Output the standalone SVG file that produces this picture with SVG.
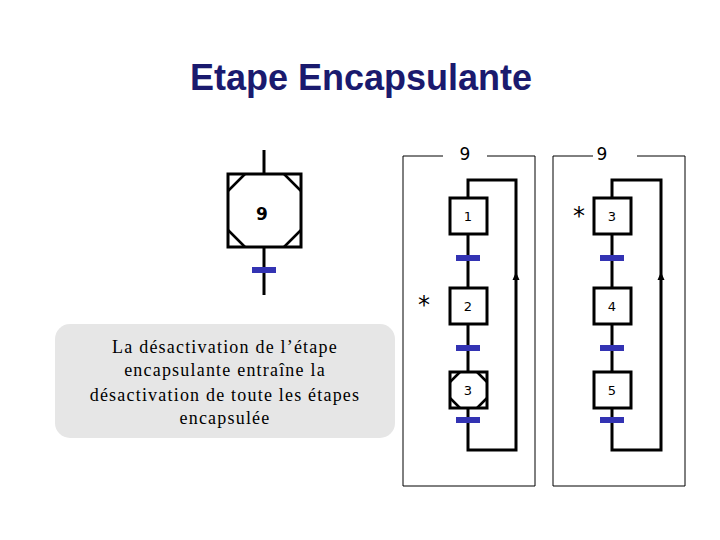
<svg xmlns="http://www.w3.org/2000/svg" width="720" height="540" viewBox="0 0 720 540">
<style>
.s{fill:#fff;stroke:#000;stroke-width:3}
.c{stroke:#000;stroke-width:3;fill:none}
.l{stroke:#000;stroke-width:2.5}
.t{fill:#3333b3}
.n{font-family:"DejaVu Sans",sans-serif;font-size:13px;text-anchor:middle}
.big{font-size:17px}
.ast{font-size:24px}
.f{fill:none;stroke:#000;stroke-width:1}
.g{font-family:"Liberation Serif",serif;font-size:18px;letter-spacing:1.2px;text-anchor:middle}
</style>
<rect width="720" height="540" fill="#fff"/>
<text x="361" y="90" font-family="Liberation Sans,sans-serif" font-weight="bold" font-size="36" fill="#1a1a6e" text-anchor="middle">Etape Encapsulante</text>
<g id="frames">
<path class="f" d="M443,156 H403 V486 H535 V156 H487"/>
<path class="f" d="M593,156 H553 V486 H685 V156 H637"/>
<text x="465" y="160" class="n big">9</text>
<text x="602" y="160" class="n big">9</text>
</g>
<g id="connectors">
<line class="c" x1="264" y1="150" x2="264" y2="295"/>
<path class="c" d="M468,234 V288 M468,324 V372 M468,408 V450 H516 V272 M516,278 V180 H468 V198"/>
<path class="c" d="M612,234 V288 M612,324 V372 M612,408 V450 H661 V272 M661,278 V180 H612 V198"/>
<path d="M516,272 l-3.5,8 h7 Z M661,272 l-3.5,8 h7 Z"/>
</g>
<g id="t1"><rect class="t" x="252" y="267" width="24" height="6"/></g>
<g id="transitions">
<rect class="t" x="456" y="255" width="24" height="6"/>
<rect class="t" x="456" y="345" width="24" height="6"/>
<rect class="t" x="456" y="417" width="24" height="6"/>
<rect class="t" x="600" y="255" width="24" height="6"/>
<rect class="t" x="600" y="345" width="24" height="6"/>
<rect class="t" x="600" y="417" width="24" height="6"/>
</g>
<g id="step9">
<rect class="s" x="228" y="174" width="73" height="73"/>
<path class="l" d="M228,191 L245,174 M284,174 L301,191 M228,230 L245,247 M284,247 L301,230"/>
<text x="262" y="220" class="n big" font-weight="bold">9</text>
</g>
<g id="s1"><rect class="s" x="450" y="198" width="37" height="36"/><text x="468" y="221" class="n">1</text></g>
<g id="s2"><rect class="s" x="450" y="288" width="37" height="36"/><text x="468" y="311" class="n">2</text></g>
<g id="s3"><rect class="s" x="450" y="372" width="37" height="36"/><path class="l" d="M450,382 L460,372 M477,372 L487,382 M450,398 L460,408 M477,408 L487,398"/><text x="468" y="395" class="n">3</text></g>
<g id="s3b"><rect class="s" x="594" y="198" width="37" height="36"/><text x="612" y="221" class="n">3</text></g>
<g id="s4"><rect class="s" x="594" y="288" width="37" height="36"/><text x="612" y="311" class="n">4</text></g>
<g id="s5"><rect class="s" x="594" y="372" width="37" height="36"/><text x="612" y="395" class="n">5</text></g>
<text x="424" y="313" class="n ast">*</text>
<text x="579" y="224" class="n ast">*</text>
<g id="note">
<rect x="55" y="324" width="340" height="114" rx="15" fill="#e6e6e6"/>
<text x="225" y="353" class="g">La désactivation de l’étape</text>
<text x="225" y="376" class="g">encapsulante  entraîne la</text>
<text x="225" y="401" class="g">désactivation de toute les étapes</text>
<text x="225" y="424" class="g">encapsulée</text>
</g>
</svg>
